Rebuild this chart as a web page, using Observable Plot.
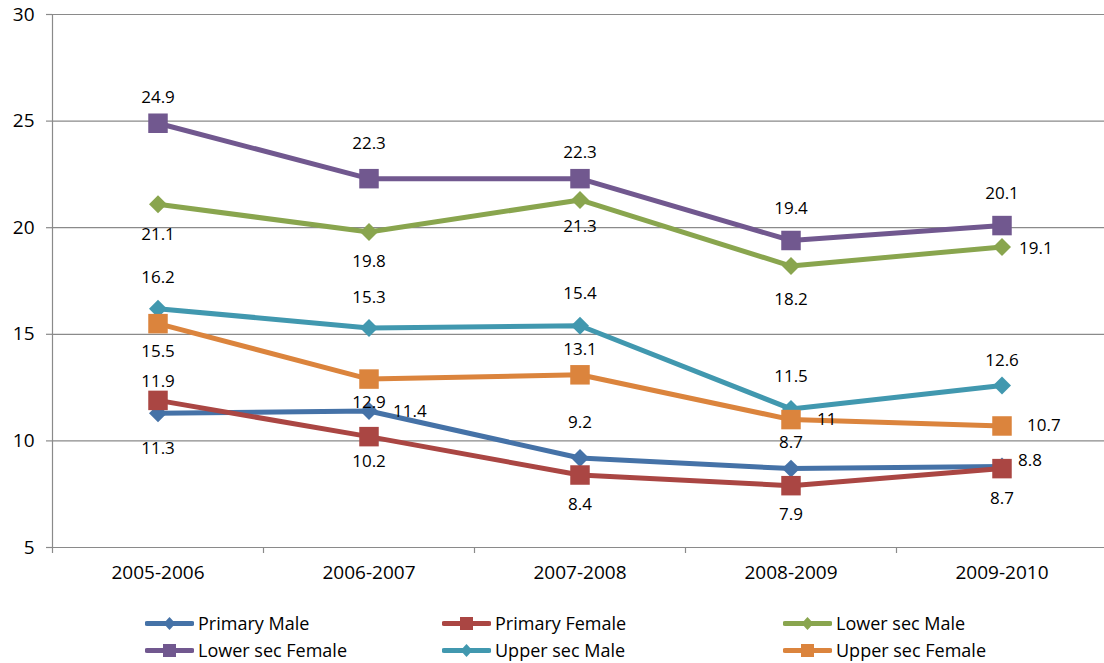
<!DOCTYPE html>
<html>
<head>
<meta charset="utf-8">
<script src="https://cdn.jsdelivr.net/npm/d3@7"></script>
<script src="https://cdn.jsdelivr.net/npm/@observablehq/plot@0.6"></script>
<style>
  html, body { margin: 0; padding: 0; background: #fff; }
  #wrap { position: relative; width: 1104px; height: 663px; font-family: "Open Sans", sans-serif; }
  #legend { position: absolute; left: 0; top: 600px; width: 1104px; height: 63px; }
  .item { position: absolute; display: flex; align-items: center; font-size: 18px; color: #000; height: 26px; }
  .item svg { margin-right: 4px; }
</style>
</head>
<body>
<div id="wrap"><div id="chart"></div><div id="legend"></div></div>
<script>
// ---- data ----
const categories = ["2005-2006", "2006-2007", "2007-2008", "2008-2009", "2009-2010"];
const seriesNames = ["Primary Male", "Primary Female", "Lower sec Male", "Lower sec Female", "Upper sec Male", "Upper sec Female"];
const primaryMale    = [11.3, 11.4, 9.2, 8.7, 8.8];
const primaryFemale  = [11.9, 10.2, 8.4, 7.9, 8.7];
const lowerSecMale   = [21.1, 19.8, 21.3, 18.2, 19.1];
const lowerSecFemale = [24.9, 22.3, 22.3, 19.4, 20.1];
const upperSecMale   = [16.2, 15.3, 15.4, 11.5, 12.6];
const upperSecFemale = [15.5, 12.9, 13.1, 11, 10.7];
const yTicks = [5, 10, 15, 20, 25, 30];

// ---- styling / layout config ----
const colors = ["#4572A7", "#AA4643", "#89A54E", "#71588F", "#4198AF", "#DB843D"];
const symbols = ["diamond2", "square", "diamond2", "square", "diamond2", "square"];
// label offsets in pixels [dx, dy]; dx > 0 means anchored at start (to the right)
const labelOffsets = [
  [[0, 35], [24, 0], [0, -35], [0, -26], [16, -6]],
  [[0, -19], [0, 25], [0, 30], [0, 29], [0, 30]],
  [[0, 30], [0, 30], [0, 27], [0, 33], [17, 2]],
  [[0, -26], [0, -35], [0, -26], [0, -32], [0, -32]],
  [[0, -31], [0, -30], [0, -32], [0, -32], [0, -25]],
  [[0, 28], [0, 23], [0, -25], [26, 0], [25, 0]]
];

const seriesValues = [primaryMale, primaryFemale, lowerSecMale, lowerSecFemale, upperSecMale, upperSecFemale];
const rows = seriesNames.flatMap((s, si) => seriesValues[si].map((v, i) => ({series: s, si, i, value: v})));
const boundaries = d3.range(categories.length + 1).map(i => i - 0.5);

const marks = [
  Plot.ruleY(yTicks, {y: d => d, stroke: "#8a8a8a", strokeWidth: 1.2}),
  Plot.ruleY(yTicks, {y: d => d, x1: -0.5, x2: -0.5, insetLeft: -6, stroke: "#8a8a8a", strokeWidth: 1.2}),
  Plot.ruleX([-0.5], {x: d => d, y1: 5, y2: 30, stroke: "#8a8a8a", strokeWidth: 1.2}),
  Plot.ruleX(boundaries, {x: d => d, y1: 5, y2: 5, insetBottom: -6, stroke: "#8a8a8a", strokeWidth: 1.2}),
  Plot.text(yTicks, {y: d => d, frameAnchor: "left", textAnchor: "end", dx: -18, text: d => String(d), fontSize: 19, fill: "#000"}),
  Plot.text(categories, {x: (d, i) => i, frameAnchor: "bottom", dy: 31, text: d => d, fontSize: 19, fill: "#000"})
];

seriesNames.forEach((s, si) => {
  const data = rows.filter(r => r.si === si);
  marks.push(Plot.line(data, {x: "i", y: "value", stroke: colors[si], strokeWidth: 5, strokeLinejoin: "round"}));
  marks.push(Plot.dot(data, {x: "i", y: "value", symbol: () => symbols[si], r: symbols[si] === "square" ? 11 : 8.1, fill: colors[si], stroke: "none"}));
});

rows.forEach(r => {
  const [dx, dy] = labelOffsets[r.si][r.i];
  marks.push(Plot.text([r], {x: "i", y: "value", text: d => String(d.value), dx, dy,
    textAnchor: dx > 0 ? "start" : "middle", fontSize: 17, fill: "#000"}));
});

const chart = Plot.plot({
  width: 1104,
  height: 600,
  marginLeft: 52,
  marginRight: 0,
  marginTop: 14,
  marginBottom: 53,
  style: {fontFamily: "'Open Sans', sans-serif", background: "#fff", overflow: "visible"},
  x: {domain: [-0.5, categories.length - 0.5], range: [52, 1107], axis: null},
  y: {domain: [5, 30], range: [547, 14], axis: null},
  symbol: {type: "identity"},
  marks
});
document.getElementById("chart").appendChild(chart);

// ---- legend ----
const legendPos = [[145, 0], [442, 0], [783, 0], [145, 27], [442, 27], [783, 27]];
const legend = document.getElementById("legend");
seriesNames.forEach((s, si) => {
  const div = document.createElement("div");
  div.className = "item";
  div.style.left = legendPos[si][0] + "px";
  div.style.top = (10 + legendPos[si][1]) + "px";
  const m = symbols[si] === "square"
    ? `<rect x="18" y="5" width="13" height="13" fill="${colors[si]}"/>`
    : `<path d="M24.5 5 L30.5 11.5 L24.5 18 L18.5 11.5 Z" fill="${colors[si]}"/>`;
  div.innerHTML = `<svg width="49" height="23"><line x1="2" x2="47" y1="11.5" y2="11.5" stroke="${colors[si]}" stroke-width="5" stroke-linecap="round"/>${m}</svg><span>${s}</span>`;
  legend.appendChild(div);
});
</script>
</body>
</html>
